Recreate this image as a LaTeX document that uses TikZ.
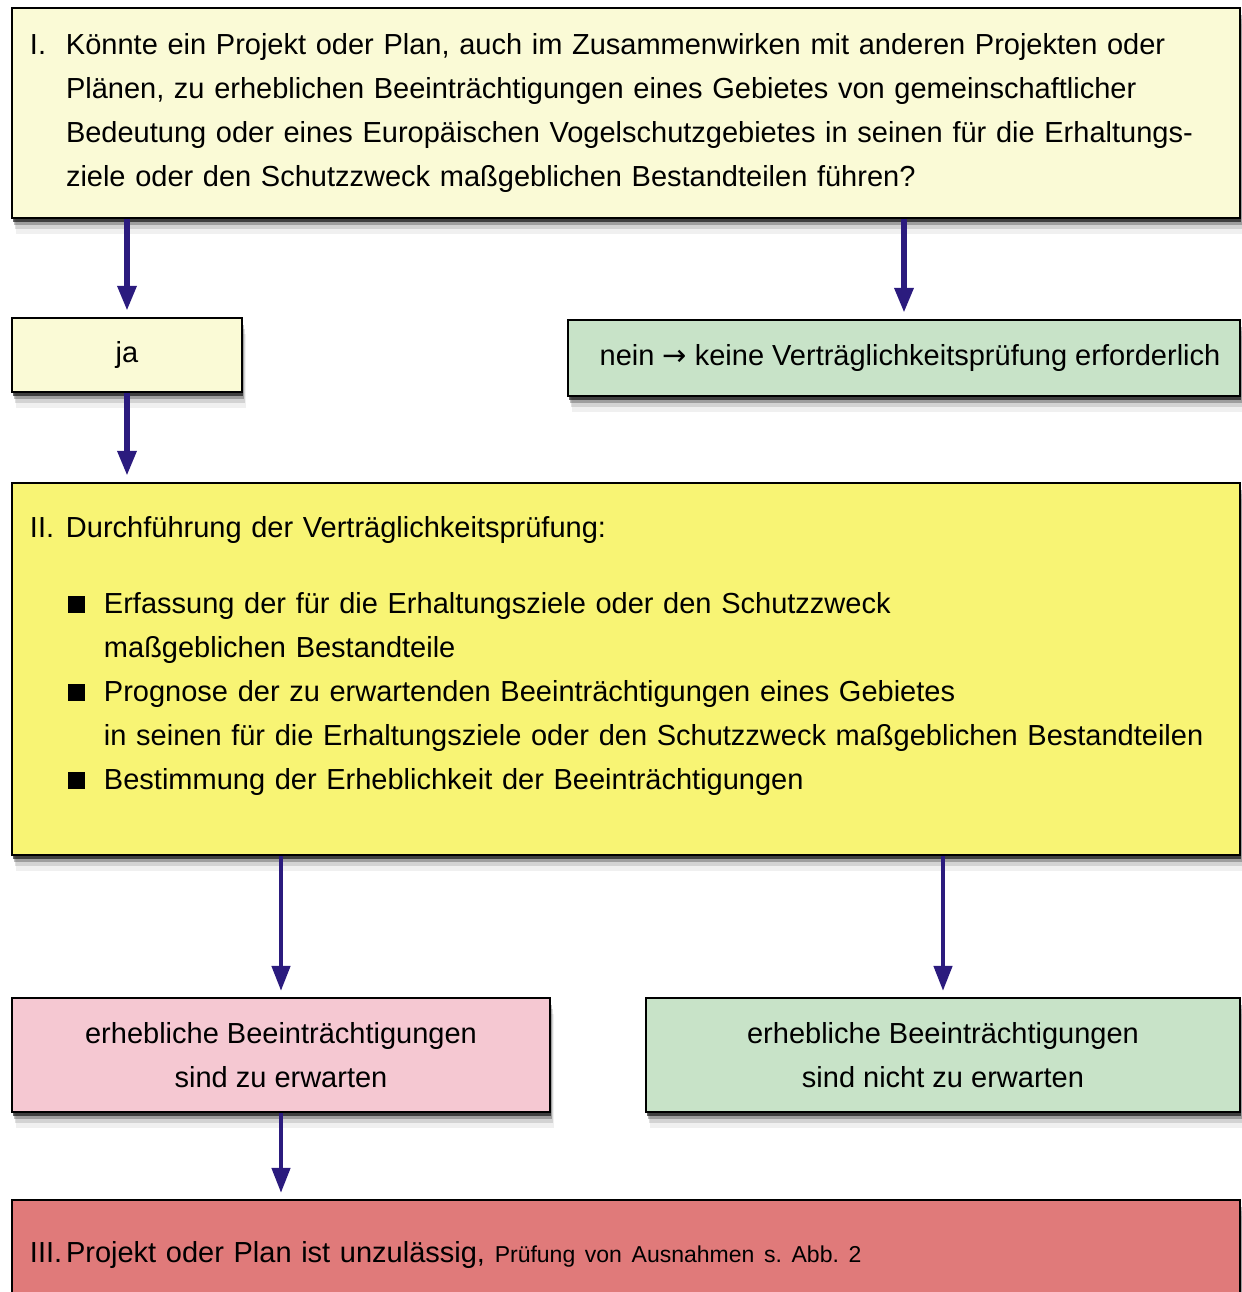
\documentclass[tikz,border=0pt]{standalone}
\usepackage{fontspec}
\setmainfont{Liberation Sans}
\newfontfamily\pfeilfont{DejaVu Sans}
\usetikzlibrary{positioning,shadows,arrows.meta}
\definecolor{hellgelb}{HTML}{FAFAD6}
\definecolor{gelb}{HTML}{F8F474}
\definecolor{gruen}{HTML}{C8E3C8}
\definecolor{rosa}{HTML}{F5C8D2}
\definecolor{rot}{HTML}{E07A7A}
\definecolor{pfeil}{HTML}{2B1B7E}
\newcommand{\haengend}{\hspace*{18pt}}
\newcommand{\einzug}{\hspace*{37pt}}
\newcommand{\punkt}{\hspace*{19pt}\makebox[18pt][l]{\raisebox{0.5pt}{\rule{8.5pt}{8.5pt}}}}

\begin{document}
\begin{tikzpicture}[x=0.5pt, y=-0.5pt,
    kasten/.style={draw=black, line width=1.1pt, rectangle, inner xsep=9pt, inner ysep=0pt,
        font=\fontsize{14.5pt}{22pt}\selectfont,
        drop shadow={shadow xshift=2pt, shadow yshift=-8pt, fill=black, opacity=0.06},
        drop shadow={shadow xshift=1.5pt, shadow yshift=-5.5pt, fill=black, opacity=0.12},
        drop shadow={shadow xshift=1pt, shadow yshift=-3.5pt, fill=black, opacity=0.25},
        drop shadow={shadow xshift=0.6pt, shadow yshift=-1.8pt, fill=black, opacity=0.6}},
    fluss/.style={-{Triangle[length=12.5pt, width=9pt]}, pfeil, line width=3pt, shorten >=3pt}]
    \clip (0,0) rectangle (1242,1292);

    % Frage
    \node[kasten, fill=hellgelb, text width=596pt, minimum height=105pt, align=left] (frage) at (626,113)
        {\makebox[18pt][l]{I.}Könnte ein Projekt oder Plan, auch im Zusammenwirken mit anderen Projekten oder\\
         \haengend Plänen, zu erheblichen Beeinträchtigungen eines Gebietes von gemeinschaftlicher\\
         \haengend Bedeutung oder eines Europäischen Vogelschutzgebietes in seinen für die Erhaltungs-\\
         \haengend ziele oder den Schutzzweck maßgeblichen Bestandteilen führen?};

    % Antworten
    \node[kasten, fill=hellgelb, minimum width=115pt, minimum height=37pt] (ja) at (127,355) {ja};
    \node[kasten, fill=gruen, minimum width=336pt, minimum height=38pt] (nein) at (904,358)
        {\hspace*{6pt}nein {\pfeilfont →} keine Verträglichkeitsprüfung erforderlich};

    % Pruefung
    \node[kasten, fill=gelb, text width=596pt, minimum height=186pt, align=left] (pruefung) at (626,669)
        {\makebox[18pt][l]{II.}Durchführung der Verträglichkeitsprüfung:\\[16pt]
         \punkt Erfassung der für die Erhaltungsziele oder den Schutzzweck\\
         \einzug maßgeblichen Bestandteile\\
         \punkt Prognose der zu erwartenden Beeinträchtigungen eines Gebietes\\
         \einzug in seinen für die Erhaltungsziele oder den Schutzzweck maßgeblichen Bestandteilen\\
         \punkt Bestimmung der Erheblichkeit der Beeinträchtigungen\\[-6pt]\mbox{}};

    % Ergebnisse
    \node[kasten, fill=rosa, minimum width=269pt, minimum height=57pt, align=center] (erheblich) at (281,1055)
        {erhebliche Beeinträchtigungen\\sind zu erwarten};
    \node[kasten, fill=gruen, minimum width=297pt, minimum height=57pt, align=center] (unerheblich) at (943,1055)
        {erhebliche Beeinträchtigungen\\sind nicht zu erwarten};

    % Folge
    \node[kasten, fill=rot, text width=596pt, minimum height=55pt, align=left] (folge) at (626,1255)
        {\makebox[18pt][l]{III.}Projekt oder Plan ist unzulässig, {\fontsize{11.5pt}{14pt}\selectfont\frenchspacing Prüfung von Ausnahmen s. Abb. 2}};

    % Pfeile
    \draw[fluss] (frage.south -| ja.north) -- (ja.north);
    \draw[fluss] (frage.south -| nein.north) -- (nein.north);
    \draw[fluss] (ja.south) -- (ja.south |- pruefung.north);
    \draw[fluss, line width=2.2pt] (pruefung.south -| erheblich.north) -- (erheblich.north);
    \draw[fluss, line width=2.2pt] (pruefung.south -| unerheblich.north) -- (unerheblich.north);
    \draw[fluss, line width=2.2pt] (erheblich.south) -- (erheblich.south |- folge.north);
\end{tikzpicture}
\end{document}
